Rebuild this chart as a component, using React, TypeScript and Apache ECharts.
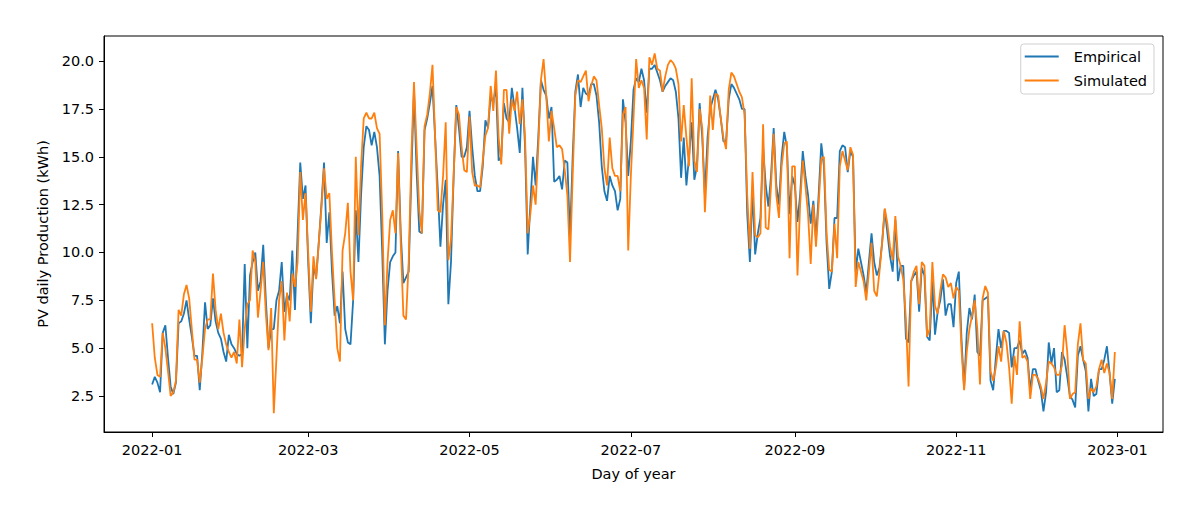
import React, { useEffect, useRef } from "react";
import * as echarts from "echarts";

// Day-of-year tick positions and labels
const tickDays = [0, 59, 120, 181, 243, 304, 365];
const tickLabels = ["2022-01", "2022-03", "2022-05", "2022-07", "2022-09", "2022-11", "2023-01"];
const yTicks = [2.5, 5.0, 7.5, 10.0, 12.5, 15.0, 17.5, 20.0];

// Daily PV production (kWh), 2022-01-01 .. 2022-12-31
const empirical = [
  3.1, 3.5, 3.2, 2.7, 5.8, 6.2, 4.5, 3.0, 2.6, 3.2,
  6.3, 6.4, 6.8, 7.5, 6.5, 5.6, 4.6, 4.6, 2.8, 4.8,
  7.4, 6.0, 6.2, 7.6, 6.4, 5.8, 5.5, 4.8, 4.3, 5.7,
  5.2, 5.0, 4.7, 4.6, 4.7, 9.4, 5.0, 8.8, 9.5, 10.0,
  8.0, 8.5, 10.4, 7.5, 5.0, 6.0, 6.0, 7.5, 8.0, 9.5,
  6.9, 7.8, 7.5, 10.1, 7.0, 11.0, 14.7, 12.8, 13.5, 9.5,
  6.3, 9.3, 8.7, 10.5, 12.5, 14.7, 10.5, 12.1, 9.0, 6.7,
  7.2, 6.3, 9.0, 6.0, 5.3, 5.2, 7.5, 12.2, 9.5, 13.0,
  15.5, 16.6, 16.4, 15.6, 16.3, 15.5, 14.0, 10.0, 5.2, 8.0,
  9.5, 9.8, 10.0, 15.3, 11.0, 8.4, 8.7, 9.0, 14.0, 18.5,
  14.2, 11.1, 11.0, 16.4, 17.0, 17.8, 18.7, 16.0, 13.3, 10.3,
  12.5, 13.8, 7.3, 9.5, 14.0, 17.7, 16.5, 15.0, 15.0, 15.5,
  17.4, 15.5, 14.0, 13.2, 13.2, 14.5, 16.9, 16.5, 18.2, 17.8,
  18.7, 14.8, 15.0, 17.8, 17.0, 16.8, 18.6, 17.6, 16.5, 15.2,
  18.6, 15.5, 9.9, 12.5, 15.0, 13.5, 16.0, 19.0, 18.5, 18.2,
  17.0, 17.6, 13.7, 13.8, 14.0, 13.3, 14.8, 14.7, 10.8, 15.0,
  18.4, 19.3, 17.6, 18.6, 18.3, 18.2, 18.8, 18.8, 18.2, 16.8,
  14.5, 13.2, 12.7, 14.0, 13.5, 13.2, 12.2, 12.8, 18.0, 16.8,
  14.0, 15.8, 18.5, 19.1, 18.9, 19.6, 19.0, 17.3, 19.6, 19.6,
  19.8, 19.4, 19.0, 18.4, 18.7, 18.9, 19.1, 19.0, 18.4, 17.0,
  13.9, 16.0, 13.5, 15.0, 16.8, 13.8, 14.5, 17.8, 16.0, 13.0,
  16.0, 17.5, 18.0, 18.5, 18.0, 17.0, 15.8, 15.8, 18.0, 18.8,
  18.6, 18.3, 18.0, 17.5, 17.5, 12.0, 9.5, 13.2, 9.9, 11.0,
  11.8, 15.5, 13.5, 12.4, 14.0, 16.5, 13.5, 12.5, 15.0, 16.3,
  15.5, 12.0, 14.0, 13.5, 11.6, 13.0, 15.3, 14.0, 13.0, 11.5,
  12.7, 10.7, 13.0, 15.7, 14.5, 10.5, 8.1, 9.0, 11.8, 11.8,
  15.3, 15.6, 15.5, 14.2, 15.3, 15.0, 9.0, 10.2, 9.5, 8.8,
  7.9, 9.5, 11.0, 9.5, 8.8, 9.2, 10.5, 12.25, 11.0, 9.8,
  9.0, 11.7, 8.5, 9.3, 9.3, 5.5, 5.3, 8.5, 8.8, 9.0,
  6.9, 9.2, 8.8, 5.6, 5.4, 8.5, 5.7, 6.9, 7.5, 8.6,
  6.7, 7.3, 7.3, 6.1, 8.4, 9.0, 5.5, 2.9, 5.8, 7.1,
  6.5, 7.8, 4.8, 4.6, 7.5, 7.6, 7.7, 3.3, 2.8, 4.5,
  6.0, 5.0, 5.9, 5.9, 5.8, 4.0, 5.0, 5.0, 5.4, 4.7,
  4.9, 4.5, 2.8, 3.9, 3.9, 3.3, 2.8, 1.7, 2.7, 5.3,
  4.2, 5.0, 2.7, 2.8, 4.8, 4.4, 3.5, 2.5, 2.3, 1.9,
  4.6, 5.1, 4.4, 3.8, 1.7, 3.4, 2.5, 2.6, 3.9, 3.9,
  4.4, 5.1, 3.7, 2.1, 3.4,
];

const simulated = [
  6.3, 4.5, 3.6, 3.5, 5.8, 5.0, 3.8, 2.5, 2.7, 3.3,
  7.0, 6.7, 7.8, 8.3, 7.6, 6.0, 4.4, 4.4, 3.2, 4.5,
  6.0, 6.5, 6.5, 8.9, 7.0, 6.0, 6.8, 5.8, 5.2, 4.8,
  4.5, 4.8, 4.2, 6.5, 4.0, 6.0, 7.3, 7.5, 10.1, 9.5,
  6.6, 8.0, 9.5, 6.8, 4.9, 7.1, 1.6, 4.5, 7.5, 8.5,
  5.4, 7.9, 6.4, 8.9, 8.2, 9.5, 14.2, 11.7, 13.1, 10.0,
  6.9, 9.8, 8.6, 10.5, 12.3, 14.4, 12.8, 13.1, 10.0, 7.5,
  5.0, 4.3, 10.1, 11.0, 12.6, 9.0, 7.5, 15.0, 10.9, 14.5,
  17.0, 17.3, 17.0, 17.0, 17.3, 16.5, 16.2, 12.0, 6.2, 9.5,
  11.7, 12.2, 11.0, 15.2, 10.5, 6.7, 6.5, 9.5, 15.0, 18.9,
  15.5, 12.2, 11.0, 16.6, 17.2, 18.3, 19.8, 16.0, 12.2, 12.1,
  14.0, 16.8, 9.6, 10.7, 14.0, 17.6, 17.2, 15.5, 14.3, 14.2,
  17.1, 14.2, 13.5, 13.5, 13.4, 14.8, 16.1, 16.5, 18.7, 17.4,
  19.5, 16.0, 14.6, 18.5, 18.5, 16.2, 18.0, 17.4, 18.4, 16.7,
  18.0, 16.0, 11.0, 12.0, 13.5, 12.5, 15.5, 19.0, 20.1, 18.2,
  15.8, 17.4, 16.5, 15.5, 15.6, 15.4, 14.3, 13.0, 9.5, 14.0,
  18.2, 19.0, 18.9, 19.2, 19.5, 17.9, 18.7, 19.2, 19.0, 17.7,
  16.5, 14.4, 13.5, 16.0, 14.4, 14.0, 14.0, 13.2, 17.2, 17.6,
  10.1, 14.0, 17.0, 20.1, 18.6, 19.0, 18.6, 15.9, 20.2, 19.8,
  20.4, 19.6, 19.5, 18.4, 19.2, 19.8, 20.05, 19.9, 19.6, 18.8,
  15.8, 17.7, 16.0, 14.5, 19.1, 14.8, 14.2, 17.5, 16.5, 12.1,
  15.0, 18.2, 16.4, 18.3, 18.2, 17.0, 16.0, 15.4, 18.5, 19.4,
  19.2, 18.8, 18.4, 18.1, 17.2, 13.0, 10.2, 14.2, 10.9, 10.8,
  11.0, 16.7, 11.3, 11.2, 13.5, 16.2, 13.0, 11.8, 14.5, 15.7,
  15.8, 9.7, 14.5, 14.5, 8.8, 12.5, 14.8, 13.5, 12.0, 9.4,
  12.5, 10.3, 12.5, 14.9, 15.0, 11.0, 9.1, 9.0, 11.5, 9.7,
  14.5, 15.3, 14.8, 14.3, 15.5, 15.1, 8.2, 9.5, 9.0, 8.5,
  7.5, 9.0, 10.5, 8.0, 7.7, 9.0, 10.5, 12.3, 11.5, 10.3,
  9.6, 11.9, 9.8, 9.3, 8.6, 6.5, 3.0, 8.5, 9.0, 9.3,
  7.3, 9.5, 9.3, 5.6, 6.0, 9.5, 7.2, 6.8, 8.0, 8.85,
  8.7, 8.2, 8.4, 7.6, 8.2, 8.0, 5.0, 2.8, 4.8, 6.0,
  6.7, 7.5, 6.0, 3.1, 7.6, 8.25, 7.9, 3.8, 3.3, 4.0,
  5.1, 4.3, 5.9, 5.3, 4.0, 2.1, 4.6, 3.6, 6.4, 4.5,
  4.6, 4.3, 2.35, 3.6, 3.6, 3.4, 3.0, 2.35, 3.2, 4.3,
  4.2, 4.0, 3.6, 3.6, 4.1, 6.2, 4.8, 2.35, 2.6, 2.7,
  5.2, 6.3, 4.4, 4.2, 2.35, 2.9, 2.7, 3.0, 3.9, 4.4,
  3.7, 4.2, 3.7, 2.35, 4.8,
];

const FONT = "DejaVu Sans";

export default function App() {
  const ref = useRef<HTMLDivElement>(null);

  useEffect(() => {
    if (!ref.current) return;
    const chart = echarts.init(ref.current, null, { renderer: "svg" });
    const empData = empirical.map((v, i) => [i, v]);
    const simData = simulated.map((v, i) => [i, v]);
    const textStyle = { color: "#000", fontSize: 14.5, fontFamily: FONT };

    chart.setOption({
      animation: false,
      backgroundColor: "#ffffff",
      textStyle: { fontFamily: FONT },
      grid: {
        left: 104,
        top: 36,
        right: 37,
        bottom: 86,
        show: true,
        borderColor: "#000",
        borderWidth: 1,
        backgroundColor: "transparent",
      },
      legend: {
        data: ["Empirical", "Simulated"],
        orient: "vertical",
        right: 46,
        top: 44,
        icon: "rect",
        itemWidth: 34,
        itemHeight: 2,
        itemGap: 9,
        padding: [5, 7, 6, 4],
        borderColor: "#d0d0d0",
        borderWidth: 1,
        borderRadius: 3,
        backgroundColor: "#ffffff",
        textStyle: { ...textStyle, padding: [0, 0, 0, 10] },
      },
      xAxis: {
        type: "value",
        min: -18.2,
        max: 382.2,
        name: "Day of year",
        nameLocation: "middle",
        nameGap: 34,
        nameTextStyle: textStyle,
        axisLine: { show: true, onZero: false, lineStyle: { color: "#000", width: 1 } },
        axisTick: { show: true, length: 5, customValues: tickDays, lineStyle: { color: "#000", width: 1 } },
        axisLabel: {
          customValues: tickDays,
          margin: 10,
          ...textStyle,
          formatter: (v: number) => {
            const i = tickDays.indexOf(Math.round(v));
            return i >= 0 ? tickLabels[i] : "";
          },
        },
        splitLine: { show: false },
      },
      yAxis: {
        type: "value",
        min: 0.62,
        max: 21.31,
        name: "PV daily Production (kWh)",
        nameLocation: "middle",
        nameGap: 54,
        nameTextStyle: textStyle,
        axisLine: { show: true, onZero: false, lineStyle: { color: "#000", width: 1 } },
        axisTick: { show: true, length: 5, customValues: yTicks, lineStyle: { color: "#000", width: 1 } },
        axisLabel: {
          customValues: yTicks,
          margin: 10,
          ...textStyle,
          formatter: (v: number) => v.toFixed(1),
        },
        splitLine: { show: false },
      },
      series: [
        {
          name: "Empirical",
          type: "line",
          data: empData,
          showSymbol: false,
          symbol: "none",
          color: "#1f77b4",
          lineStyle: { color: "#1f77b4", width: 1.8 },
        },
        {
          name: "Simulated",
          type: "line",
          data: simData,
          showSymbol: false,
          symbol: "none",
          color: "#ff7f0e",
          lineStyle: { color: "#ff7f0e", width: 1.8 },
        },
      ],
    });

    return () => chart.dispose();
  }, []);

  return (
    <div
      ref={ref}
      style={{ position: "absolute", left: 0, top: 0, width: 1200, height: 518 }}
    />
  );
}
